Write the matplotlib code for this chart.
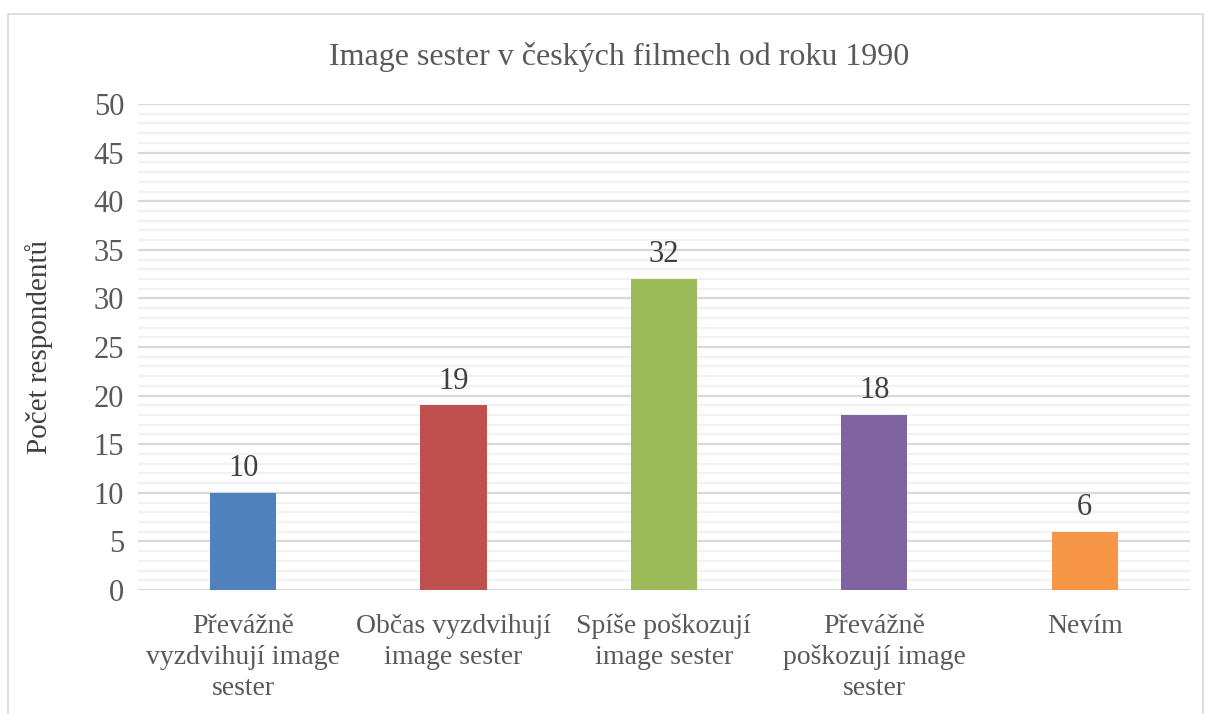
import numpy as np
import matplotlib
matplotlib.use('Agg')
import matplotlib.pyplot as plt
from matplotlib.patches import Rectangle

categories = ['Převážně\nvyzdvihují image\nsester', 'Občas vyzdvihují\nimage sester',
              'Spíše poškozují\nimage sester', 'Převážně\npoškozují image\nsester', 'Nevím']
values = [10, 19, 32, 18, 6]
colors = ['#4F81BD', '#C0504D', '#9BBB59', '#8064A2', '#F79646']

plt.rcParams['font.family'] = 'Liberation Serif'

fig = plt.figure(figsize=(12.08, 7.14), dpi=100, facecolor='white')
ax = fig.add_axes([0.1142, 0.1737, 0.8708, 0.6806])

x = np.arange(len(categories))
ax.bar(x, values, width=0.315, color=colors, zorder=3)

for xi, v in zip(x, values):
    ax.text(xi, v + 1.0, str(v), ha='center', va='bottom', fontsize=22, color='#404040')

ax.set_xlim(-0.5, len(categories) - 0.5)
ax.set_ylim(0, 50)
ax.set_yticks(np.arange(0, 51, 5))
ax.set_yticks(np.arange(0, 51, 1), minor=True)
ax.grid(axis='y', which='major', color='#D9D9D9', linewidth=1.6, zorder=0)
ax.grid(axis='y', which='minor', color='#F2F2F2', linewidth=1.6, zorder=0)
ax.tick_params(axis='y', which='both', length=0, labelsize=22, colors='#595959', pad=10)
ax.tick_params(axis='x', which='both', length=0, labelsize=20, colors='#595959', pad=17)
ax.set_xticks(x)
ax.set_xticklabels(categories, linespacing=1.32)
for s in ax.spines.values():
    s.set_visible(False)

ax.set_ylabel('Počet respondentů', fontsize=21, color='#404040', labelpad=29)
fig.text(0.5125, 0.92, 'Image sester v českých filmech od roku 1990', ha='center', va='center',
         fontsize=23, color='#595959')

fig.patches.append(Rectangle((8 / 1208, -0.01), 1195 / 1208, 1 - 14 / 714 + 0.01,
                             transform=fig.transFigure, fill=False, edgecolor='#D9D9D9', linewidth=1.2))

fig.savefig('out.png', dpi=100, facecolor='white')
